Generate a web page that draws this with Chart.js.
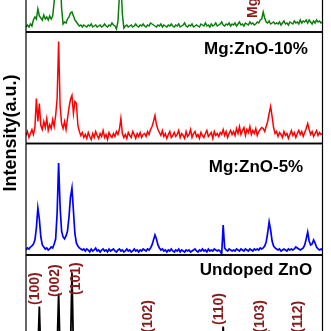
<!DOCTYPE html>
<html><head><meta charset="utf-8">
<script src="https://cdn.jsdelivr.net/npm/chart.js@4.4.0/dist/chart.umd.min.js"></script>
<style>
html,body{margin:0;padding:0;width:331px;height:331px;overflow:hidden;background:#fff;}
#wrap{position:absolute;left:0;top:0;width:331px;height:331px;overflow:hidden;}
#wrap canvas{position:absolute;left:0;}
#ylab{position:absolute;left:-61px;top:124px;width:140px;height:18px;line-height:18px;text-align:center;
 font:bold 18px "Liberation Sans",Arial,sans-serif;color:#000;transform:rotate(-90deg);white-space:nowrap;}
</style></head><body>
<div id="wrap"><div id="ylab">Intensity(a.u.)</div></div>
<script>
// 2-theta grid (degrees)
const twoTheta = [
30.0,30.2,30.4,30.6,30.8,31.0,31.2,31.4,31.6,31.8,
32.0,32.2,32.4,32.6,32.8,33.0,33.2,33.4,33.6,33.8,
34.0,34.2,34.4,34.6,34.8,35.0,35.2,35.4,35.6,35.8,
36.0,36.2,36.4,36.6,36.8,37.0,37.2,37.4,37.6,37.8,
38.0,38.2,38.4,38.6,38.8,39.0,39.2,39.4,39.6,39.8,
40.0,40.2,40.4,40.6,40.8,41.0,41.2,41.4,41.6,41.8,
42.0,42.2,42.4,42.6,42.8,43.0,43.2,43.4,43.6,43.8,
44.0,44.2,44.4,44.6,44.8,45.0,45.2,45.4,45.6,45.8,
46.0,46.2,46.4,46.6,46.8,47.0,47.2,47.4,47.6,47.8,
48.0,48.2,48.4,48.6,48.8,49.0,49.2,49.4,49.6,49.8,
50.0,50.2,50.4,50.6,50.8,51.0,51.2,51.4,51.6,51.8,
52.0,52.2,52.4,52.6,52.8,53.0,53.2,53.4,53.6,53.8,
54.0,54.2,54.4,54.6,54.8,55.0,55.2,55.4,55.6,55.8,
56.0,56.2,56.4,56.6,56.8,57.0,57.2,57.4,57.6,57.8,
58.0,58.2,58.4,58.6,58.8,59.0,59.2,59.4,59.6,59.8,
60.0,60.2,60.4,60.6,60.8,61.0,61.2,61.4,61.6,61.8,
62.0,62.2,62.4,62.6,62.8,63.0,63.2,63.4,63.6,63.8,
64.0,64.2,64.4,64.6,64.8,65.0,65.2,65.4,65.6,65.8,
66.0,66.2,66.4,66.6,66.8,67.0,67.2,67.4,67.6,67.8,
68.0,68.2,68.4,68.6,68.8,69.0,69.2,69.4,69.6,69.8,
70.0];

// top sample (green, mostly cropped)
const greenI = [
5,7,5,8,6,12,15,13,23,16,
14,12,17,13,15,12,16,13,16,30,
52,85,95,60,24,8,10,9,13,15,
19,20,16,12,10,8,6,7,5,7,
6,5,7,6,8,5,6,7,5,6,
7,5,6,8,6,5,7,6,9,7,
6,3,10,36,50,18,4,6,7,5,
6,7,5,6,8,6,5,7,6,8,
6,5,7,6,9,8,7,6,5,7,
6,8,5,7,6,5,7,6,8,6,
5,7,6,8,5,6,7,9,6,5,
7,6,8,5,6,7,6,5,8,7,
6,9,6,7,5,8,6,7,9,6,
7,8,10,7,6,8,7,9,6,8,
7,9,6,8,10,7,8,6,9,8,
7,10,8,9,7,8,10,9,12,13,
20,14,10,9,11,8,9,10,8,9,
8,10,7,9,11,8,9,7,10,9,
8,11,9,10,8,12,9,11,10,12,
9,12,10,8,11,9,12,10,11,9,
10];

// Mg:ZnO-10%
const redI = [
8,12,6,10,14,9,16,45,22,40,
18,14,22,16,25,13,19,15,24,17,
28,45,102,38,20,15,22,14,25,36,
44,48,30,42,40,18,12,8,11,6,
9,5,11,7,4,10,6,12,8,5,
10,7,13,6,9,4,11,8,6,10,
7,12,9,14,25,10,6,9,5,11,
8,6,12,9,5,10,7,11,6,9,
10,7,12,9,14,17,22,28,19,14,
11,8,13,7,10,5,9,12,6,8,
11,7,9,13,6,10,8,5,12,7,
9,14,6,10,12,7,9,5,11,8,
6,10,13,7,9,11,5,12,8,10,
7,11,9,14,8,12,6,10,13,9,
12,8,15,10,17,9,13,16,8,14,
11,17,9,13,10,15,8,12,14,16,
15,12,17,22,30,37,27,16,10,12,
7,11,9,6,12,8,10,5,9,13,
8,11,6,10,13,9,12,7,11,15,
20,14,9,12,7,10,13,8,11,9,
10];

// Mg:ZnO-5%
const blueI = [
5,7,6,8,9,11,15,27,47,36,
18,10,8,6,7,5,6,8,7,11,
16,42,92,48,24,18,16,19,24,38,
58,67,44,21,12,9,7,6,5,6,
4,6,5,3,6,4,5,7,4,5,
3,5,6,4,5,3,6,4,5,6,
4,3,5,6,4,5,3,4,6,4,
5,3,4,6,4,5,3,5,4,6,
5,4,6,5,7,10,15,20,16,10,
7,5,6,4,5,3,5,4,6,4,
3,5,4,6,3,5,4,3,5,4,
5,3,4,5,6,4,3,5,4,6,
4,5,3,6,4,5,4,6,5,4,
5,4,1,30,7,5,4,6,5,4,
5,4,6,5,4,6,5,4,6,5,
4,6,5,4,6,5,6,5,7,6,
7,9,13,22,33,25,14,9,7,6,
5,6,4,5,6,5,4,6,5,6,
5,6,8,7,6,5,6,7,10,16,
23,14,10,11,15,12,8,6,5,6,
5];

// Undoped ZnO
const blackI = [
5,4,6,5,4,5,6,7,14,60,
9,6,5,4,6,5,4,6,7,9,
12,18,73,14,8,6,5,6,7,9,
15,94,16,9,6,5,4,5,6,4,
5,4,6,5,4,5,6,4,5,6,
4,5,6,4,5,4,6,5,4,5,
6,4,5,5,4,6,5,4,5,6,
4,5,6,4,5,5,4,6,5,4,
5,6,4,5,6,7,9,13,28,10,
6,5,4,6,5,4,5,6,4,5,
5,4,6,5,4,5,6,5,4,6,
4,5,5,6,4,5,4,6,5,4,
5,6,4,5,5,4,6,5,4,5,
6,5,10,40,9,5,4,6,5,4,
5,4,6,5,4,5,6,4,5,6,
4,5,6,5,4,6,5,4,5,6,
5,6,8,14,36,13,7,5,6,4,
5,4,6,5,4,5,6,5,4,5,
5,6,9,6,5,4,5,6,8,12,
30,11,7,6,9,8,6,5,4,5,
5];

const sampleNames = ['', 'Mg:ZnO-10%', 'Mg:ZnO-5%', 'Undoped ZnO'];
const hklLabels = ['(100)','(002)','(101)','(102)','(110)','(103)','(112)'];
const hklPeaks  = [31.77, 34.42, 36.25, 47.54, 56.60, 62.86, 67.96];
const mgLabel = 'MgO';
const mgPeak = 62.1;

// ---- layout / style (not data) ----
const PANEL_H = 111.5;
const panelTops = [-79.5, 32, 143.5, 255];
const colors = ['#0a7d0a', '#ff0000', '#0000ff', '#000000'];
const widths = [1.5, 1.5, 1.7, 1.8];
const titleOffsets = [21, 21.5, 28.5, 20];
const hklDx = [-4, -4, 4, -7.5, -4.5, -9, -9.7];
const hklBase = [61.5, 69.5, 71.5, 33.8, 41.5, 33.8, 33.8];
const LABEL_COLOR = '#8b1a1a';
const series = [greenI, redI, blueI, blackI];

const framePlugin = {
  id: 'frame',
  afterDraw(chart, args, opts) {
    const {ctx, chartArea: a, scales} = chart;
    ctx.save();
    (opts.labels || []).forEach(l => {
      const px = scales.x.getPixelForValue(l.at) + l.dx;
      const py = scales.y.getPixelForValue(l.base);
      ctx.save();
      ctx.translate(px, py);
      ctx.rotate(-Math.PI / 2);
      ctx.fillStyle = LABEL_COLOR;
      ctx.font = 'bold 14px "Liberation Sans", Arial, sans-serif';
      ctx.textAlign = 'left';
      ctx.textBaseline = 'middle';
      ctx.fillText(l.text, 0, 0);
      ctx.restore();
    });
    if (opts.title) {
      ctx.fillStyle = '#000';
      ctx.font = 'bold 17px "Liberation Sans", Arial, sans-serif';
      ctx.textAlign = 'center';
      ctx.textBaseline = 'alphabetic';
      ctx.fillText(opts.title, a.left + 230, a.top + opts.titleY);
    }
    ctx.strokeStyle = '#000';
    ctx.lineWidth = 1.5;
    ctx.beginPath();
    ctx.moveTo(a.left, a.top); ctx.lineTo(a.right, a.top);
    ctx.moveTo(a.left, a.bottom); ctx.lineTo(a.right, a.bottom);
    ctx.stroke();
    ctx.lineWidth = 1.2;
    ctx.beginPath();
    ctx.moveTo(a.left, a.top); ctx.lineTo(a.left, a.bottom);
    ctx.moveTo(a.right, a.top); ctx.lineTo(a.right, a.bottom);
    ctx.stroke();
    ctx.restore();
  }
};

const wrap = document.getElementById('wrap');
series.forEach((vals, k) => {
  const top = panelTops[k];
  const cTop = Math.floor(top) - 4;
  const padTop = top - cTop;
  const h = Math.ceil(padTop + PANEL_H + 4);
  const padBottom = h - padTop - PANEL_H;
  const cv = document.createElement('canvas');
  cv.width = 331; cv.height = h;
  cv.style.top = cTop + 'px';
  cv.style.width = '331px'; cv.style.height = h + 'px';
  wrap.insertBefore(cv, wrap.firstChild);
  let labels = [];
  if (k === 3) labels = hklLabels.map((t, i) => ({text: t, at: hklPeaks[i], dx: hklDx[i], base: hklBase[i]}));
  if (k === 0) labels = [{text: mgLabel, at: mgPeak, dx: -10.5, base: 14}];
  new Chart(cv, {
    type: 'line',
    data: {
      datasets: [{
        data: vals.map((v, i) => ({x: twoTheta[i], y: v})),
        borderColor: colors[k],
        borderWidth: widths[k],
        pointRadius: 0,
        tension: 0,
        fill: false
      }]
    },
    options: {
      responsive: false,
      animation: false,
      devicePixelRatio: 1,
      layout: {padding: {left: 26, right: 8.5, top: padTop, bottom: padBottom}},
      scales: {
        x: {type: 'linear', min: 30, max: 70, display: false},
        y: {min: 0, max: PANEL_H, display: false}
      },
      plugins: {
        legend: {display: false},
        tooltip: {enabled: false},
        frame: {labels: labels, title: sampleNames[k], titleY: titleOffsets[k]}
      }
    },
    plugins: [framePlugin]
  });
});
</script>
</body></html>
